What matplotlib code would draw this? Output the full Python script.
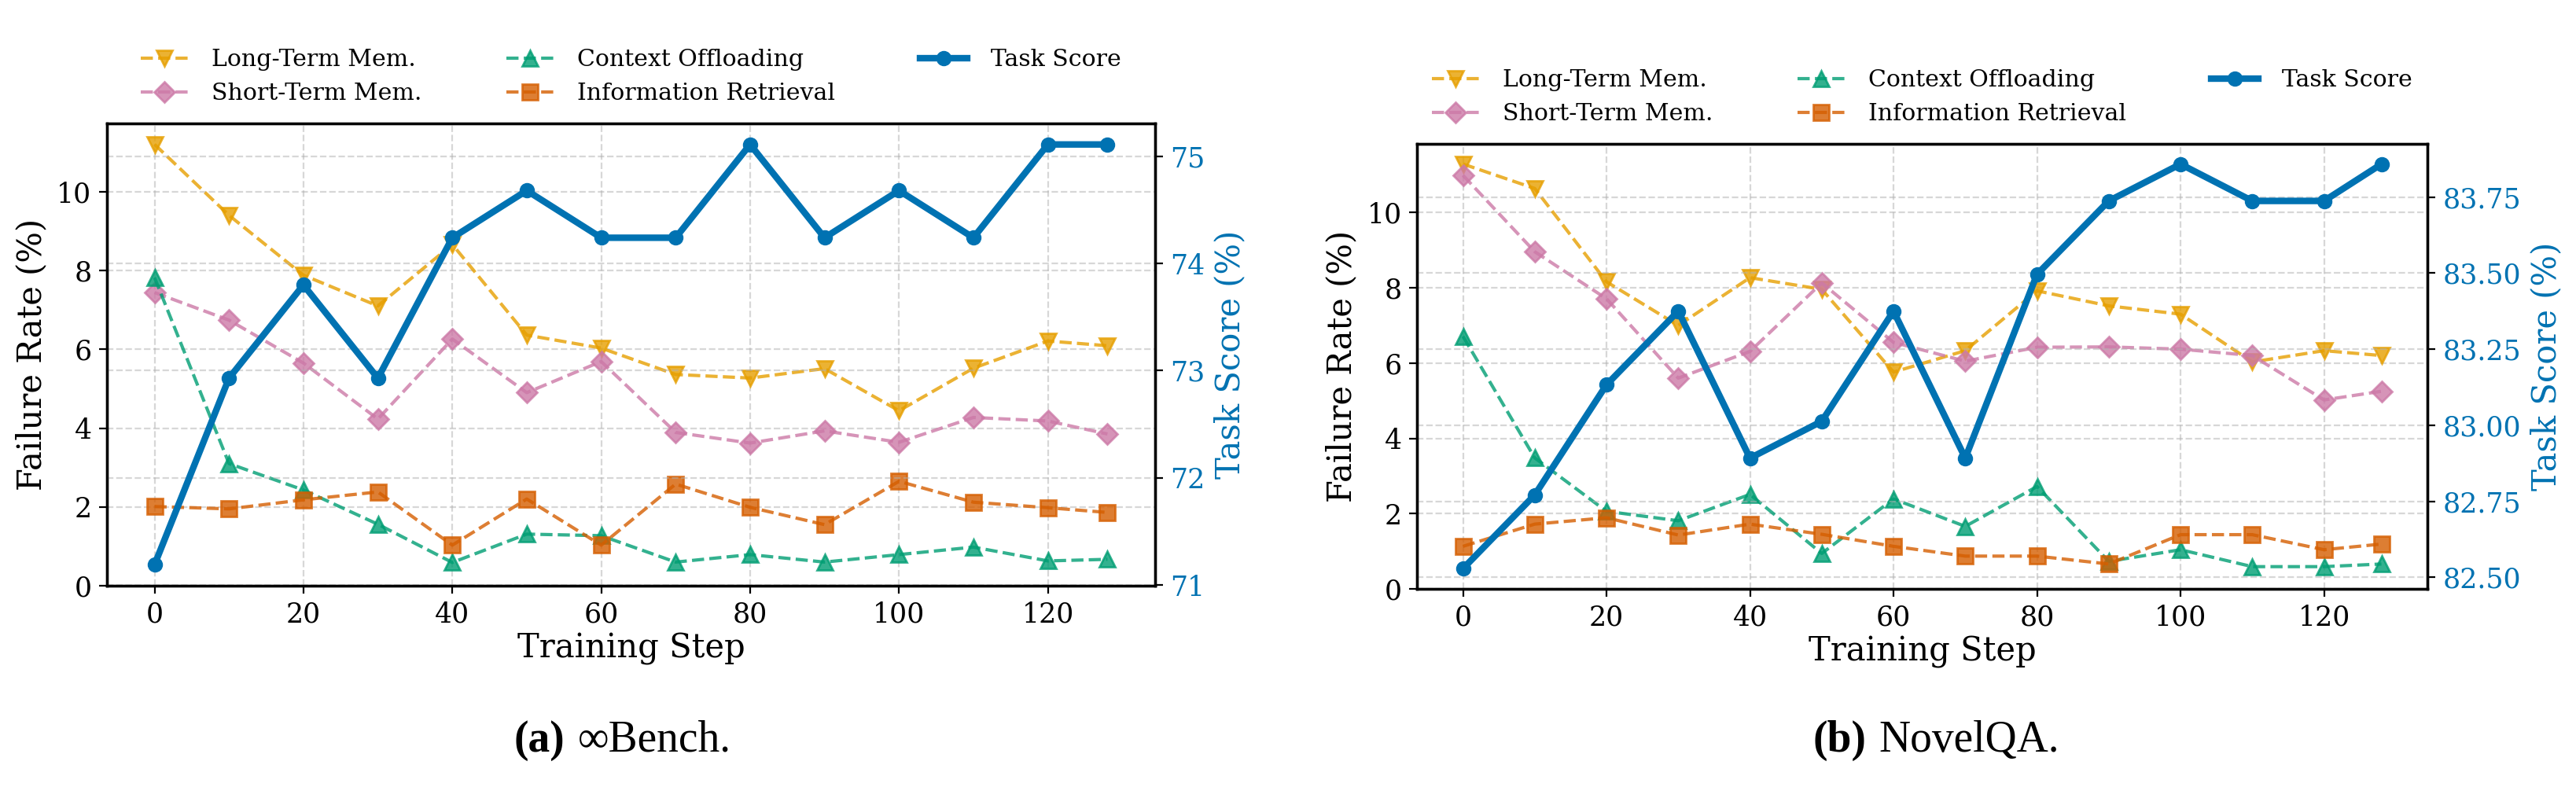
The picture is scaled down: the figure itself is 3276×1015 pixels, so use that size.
import matplotlib
matplotlib.use("Agg")
import matplotlib.pyplot as plt
from matplotlib.ticker import MultipleLocator, FormatStrFormatter

steps = [0, 10, 20, 30, 40, 50, 60, 70, 80, 90, 100, 110, 120, 128]

# (a) InfiniteBench
a_long = [11.20, 9.40, 7.88, 7.10, 8.66, 6.36, 6.03, 5.36, 5.27, 5.51, 4.44, 5.52, 6.21, 6.09]
a_short = [7.44, 6.74, 5.65, 4.23, 6.26, 4.90, 5.69, 3.89, 3.62, 3.93, 3.64, 4.27, 4.18, 3.85]
a_ctx = [7.82, 3.10, 2.43, 1.56, 0.59, 1.31, 1.27, 0.60, 0.79, 0.60, 0.79, 0.98, 0.63, 0.67]
a_ir = [2.01, 1.95, 2.18, 2.38, 1.03, 2.20, 1.03, 2.58, 1.99, 1.55, 2.65, 2.12, 1.98, 1.86]
a_score = [71.19, 72.93, 73.80, 72.93, 74.24, 74.68, 74.24, 74.24, 75.11, 74.24, 74.68, 74.24, 75.11, 75.11]

# (b) NovelQA
b_long = [11.29, 10.64, 8.16, 7.00, 8.27, 7.96, 5.76, 6.33, 7.92, 7.52, 7.30, 6.03, 6.33, 6.20]
b_short = [10.99, 8.96, 7.71, 5.60, 6.31, 8.13, 6.55, 6.05, 6.42, 6.43, 6.37, 6.20, 5.02, 5.25]
b_ctx = [6.71, 3.48, 2.06, 1.81, 2.51, 0.94, 2.39, 1.66, 2.72, 0.73, 1.04, 0.59, 0.59, 0.66]
b_ir = [1.13, 1.72, 1.89, 1.43, 1.72, 1.45, 1.13, 0.87, 0.87, 0.66, 1.44, 1.44, 1.04, 1.19]
b_score = [82.529, 82.771, 83.133, 83.375, 82.892, 83.013, 83.375, 82.892, 83.496, 83.737, 83.858, 83.737, 83.737, 83.858]

labels = ["Long-Term Mem.", "Short-Term Mem.", "Context Offloading", "Information Retrieval"]
markers = ["v", "D", "^", "s"]
colors = ["#E69F00", "#CC79A7", "#009E73", "#D55E00"]
score_color = "#0072B2"
captions = [("(a)", "\u221eBench."), ("(b)", "NovelQA.")]
xticks = [0, 20, 40, 60, 80, 100, 120]
score_tick_steps = [1.0, 0.25]
score_tick_fmt = ["%d", "%.2f"]

plt.rcParams["font.family"] = ["DejaVu Serif"]

fig = plt.figure(figsize=(16.38, 5.075), dpi=200)
positions = [[0.0415, 0.2660, 0.4069, 0.5793], [0.5501, 0.2621, 0.3922, 0.5576]]
cap_x = [(0.2192, 0.2244), (0.7245, 0.7293)]

datasets = [(a_long, a_short, a_ctx, a_ir, a_score), (b_long, b_short, b_ctx, b_ir, b_score)]

for i, (pos, data) in enumerate(zip(positions, datasets)):
    ax = fig.add_axes(pos)
    ax2 = ax.twinx()
    handles = []
    for series, lab, mk, col in zip(data[:4], labels, markers, colors):
        ms = 6.5 if mk == "D" else 7
        h, = ax.plot(steps, series, linestyle="--", marker=mk, color=col, lw=1.5,
                     ms=ms, alpha=0.8, label=lab)
        handles.append(h)
    hs, = ax2.plot(steps, data[4], "-o", color=score_color, lw=3, ms=6, label="Task Score")
    handles.append(hs)

    ax.set_ylim(bottom=0)
    ax.set_xticks(xticks)
    ax2.yaxis.set_major_locator(MultipleLocator(score_tick_steps[i]))
    ax2.yaxis.set_major_formatter(FormatStrFormatter(score_tick_fmt[i]))
    ax.grid(True, linestyle="--", color="#b0b0b0", alpha=0.5, lw=0.8)
    ax2.grid(True, axis="y", linestyle="--", color="#b0b0b0", alpha=0.5, lw=0.8)
    ax.tick_params(labelsize=12.5)
    ax2.tick_params(labelsize=12.5, labelcolor=score_color)
    ax.set_xlabel("Training Step", fontsize=15, labelpad=2)
    ax.set_ylabel("Failure Rate (%)", fontsize=15)
    ax2.set_ylabel("Task Score (%)", fontsize=15, color=score_color)
    for sp in list(ax.spines.values()) + list(ax2.spines.values()):
        sp.set_linewidth(1.2)

    ax.legend(handles=handles, loc="lower center", bbox_to_anchor=(0.5, 1.005), ncol=3,
              frameon=False, fontsize=10.8, columnspacing=3.6, handlelength=2.0,
              handletextpad=1.0, borderaxespad=0.3)

    bx, tx = cap_x[i]
    fig.text(bx, 0.072, captions[i][0], ha="right", va="center", fontsize=20,
             family=["Liberation Serif", "DejaVu Serif"], weight="bold")
    fig.text(tx, 0.072, captions[i][1], ha="left", va="center", fontsize=20,
             family=["Liberation Serif", "DejaVu Serif"])

fig.savefig("out.png", dpi=200)
